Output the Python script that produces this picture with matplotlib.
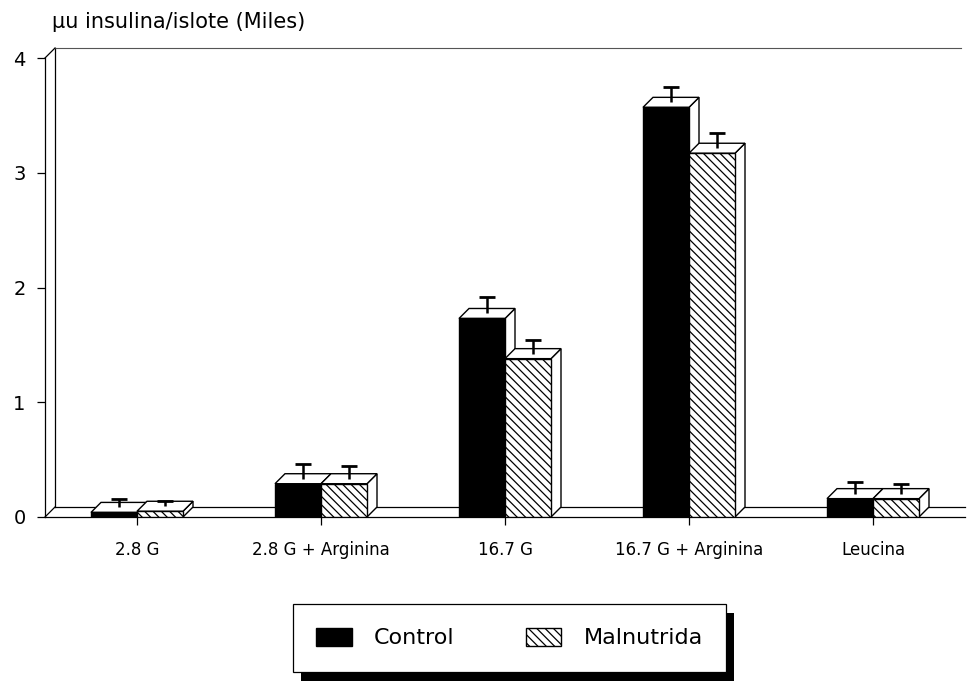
import matplotlib.pyplot as plt
from matplotlib.patches import Polygon, Patch, Rectangle
from matplotlib.transforms import IdentityTransform

# data (thousands of uU insulin per islet)
groups = ["2.8 G", "2.8 G + Arginina", "16.7 G", "16.7 G + Arginina", "Leucina"]
control = [0.04, 0.29, 1.73, 3.57, 0.16]
control_err = [0.07, 0.13, 0.14, 0.13, 0.10]
malnutrida = [0.05, 0.29, 1.38, 3.17, 0.16]
malnutrida_err = [0.05, 0.11, 0.12, 0.13, 0.08]
yticks = [0, 1, 2, 3, 4]

plt.rcParams['font.family'] = ['DejaVu Sans']
plt.rcParams['hatch.linewidth'] = 0.9

W, H = 967, 681
fig = plt.figure(figsize=(W / 100, H / 100), dpi=100)
ax = fig.add_axes([45 / W, (H - 517) / H, 920 / W, (517 - 58) / H])
ax.set_xlim(-0.5, len(groups) - 0.5)
ax.set_ylim(0, 4)

# 3d depth of the boxes, in pixels, turned into data units
DEPTH = 10
inv = ax.transData.inverted()
ox, oy = ax.transData.transform((0, 0))
dx, dy = inv.transform((ox + DEPTH, oy + DEPTH))

lw = 1.0
x_lo, x_hi = ax.get_xlim()
y_top = ax.get_ylim()[1]
# back walls
wall = dict(color="black", lw=0.9, clip_on=False, zorder=1)
ax.plot([x_lo + dx, x_lo + dx], [dy, y_top + dy], **wall)
ax.plot([x_lo + dx, x_hi - 0.02], [y_top + dy, y_top + dy], color="#555555",
        lw=0.8, clip_on=False, zorder=1)
ax.plot([x_lo, x_lo + dx], [y_top, y_top + dy], **wall)
ax.plot([x_lo + dx, x_hi], [dy, dy], **wall)
ax.plot([x_lo, x_lo + dx], [0, dy], **wall)

width = 0.25
hatch = '\\\\\\\\'
z = 2


def box(x0, h, face, htch):
    global z
    x1 = x0 + width
    side = Polygon([(x1, 0), (x1 + dx, dy), (x1 + dx, h + dy), (x1, h)],
                   closed=True, facecolor="white", edgecolor="black", lw=lw, zorder=z)
    top = Polygon([(x0, h), (x0 + dx, h + dy), (x1 + dx, h + dy), (x1, h)],
                  closed=True, facecolor="white", edgecolor="black", lw=lw, zorder=z + 1)
    ax.add_patch(side)
    ax.add_patch(top)
    ax.bar(x0, h, width=width, align="edge", color=face, hatch=htch,
           edgecolor="black", lw=lw, zorder=z + 2)
    z += 3


for i in range(len(groups)):
    box(i - width, control[i], "black", None)
    box(i, malnutrida[i], "white", hatch)

# error bars: stem from the middle of the top face, cap on top only
xs = list(range(len(groups)))
for shift, vals, errs in [(-width / 2, control, control_err),
                          (width / 2, malnutrida, malnutrida_err)]:
    ex = [x + shift + dx / 2 for x in xs]
    base = [v + dy / 2 for v in vals]
    tops = [b + e for b, e in zip(base, errs)]
    ax.vlines(ex, base, tops, color="black", lw=1.8, zorder=100)
    ax.plot(ex, tops, ls="none", marker="_", ms=11, mew=2.0, color="black",
            zorder=101)

for s in ["top", "right"]:
    ax.spines[s].set_visible(False)
ax.spines["left"].set_linewidth(0.9)
ax.spines["bottom"].set_linewidth(0.9)

ax.set_xticks(xs)
ax.set_xticklabels(groups, fontsize=12)
ax.set_yticks(yticks)
ax.set_yticklabels([str(t) for t in yticks], fontsize=14)
ax.tick_params(axis="x", length=6, width=0.9, pad=11)
ax.tick_params(axis="y", length=6, width=0.9, pad=8)

fig.text(52 / W, 1 - 22 / H, "µu insulina/islote (Miles)", fontsize=15,
         va="center", ha="left")

handles = [Patch(facecolor="black", edgecolor="black"),
           Patch(facecolor="white", edgecolor="black", hatch=hatch)]
leg = fig.legend(handles, ["Control", "Malnutrida"], loc="center",
                 bbox_to_anchor=(509.5 / W, 1 - 638 / H), ncol=2, fontsize=16,
                 frameon=True, fancybox=False, edgecolor="black",
                 facecolor="white", framealpha=1.0,
                 borderpad=1.05, borderaxespad=0, handlelength=1.6,
                 handleheight=0.9, handletextpad=1.0, columnspacing=3.2)
leg.get_frame().set_linewidth(0.9)
leg.set_zorder(10)

fig.canvas.draw()
bb = leg.get_frame().get_window_extent()
fig.patches.append(Rectangle((bb.x0 + 8, bb.y0 - 9), bb.width, bb.height,
                             transform=IdentityTransform(), facecolor="black",
                             edgecolor="none", zorder=9, figure=fig))

fig.savefig("out.png", dpi=100)
